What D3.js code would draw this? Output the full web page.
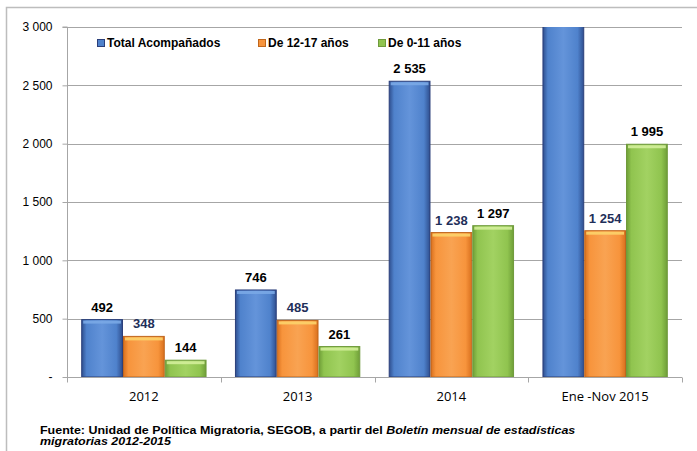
<!DOCTYPE html>
<html><head><meta charset="utf-8">
<script src="https://cdn.jsdelivr.net/npm/d3@7"></script>
<style>body{margin:0;background:#fff}</style>
</head><body>
<script>
const categories = ["2012", "2013", "2014", "Ene -Nov 2015"];
const seriesNames = ["Total Acompañados", "De 12-17 años", "De 0-11 años"];
const total = [492, 746, 2535, 3249];
const de12a17 = [348, 485, 1238, 1254];
const de0a11 = [144, 261, 1297, 1995];
const yTicks = [0, 500, 1000, 1500, 2000, 2500, 3000];

const W = 697, H = 451;
const svg = d3.select("body").append("svg").attr("width", W).attr("height", H);
const defs = svg.append("defs");

const m = {l: 67, r: 682, t: 27, b: 377};
const x0 = d3.scaleBand().domain(categories).range([m.l, m.r]).paddingInner(0).paddingOuter(0);
const x1 = d3.scaleBand().domain(seriesNames).range([0, x0.bandwidth()]).paddingInner(0).paddingOuter(0.34);
const y = d3.scaleLinear().domain([0, 3000]).range([m.b, m.t]);

// outer frame
svg.append("rect").attr("x", 6.5).attr("y", 7.5).attr("width", 700).attr("height", 460)
  .attr("fill", "none").attr("stroke", "#bdbdbd").attr("stroke-width", 1.5);

const styles = [
  {edge: "#2f4f8f", mid: "#4f82cc", light: "#6494da", cap: "#7aa8e6", stroke: "#2b3f7a", lab: "#000"},
  {edge: "#d9701e", mid: "#f7943c", light: "#f9a352", cap: "#fcd36a", stroke: "#c0661c", lab: "#1f2f5a"},
  {edge: "#6f9e38", mid: "#90c44f", light: "#a2d262", cap: "#d3ee9a", stroke: "#6f9a3c", lab: "#000"}
];
styles.forEach((s, i) => {
  const g = defs.append("linearGradient").attr("id", "g" + i).attr("x1", 0).attr("x2", 1).attr("y1", 0).attr("y2", 0);
  g.append("stop").attr("offset", "0%").attr("stop-color", s.edge);
  g.append("stop").attr("offset", "12%").attr("stop-color", s.mid);
  g.append("stop").attr("offset", "50%").attr("stop-color", s.light);
  g.append("stop").attr("offset", "85%").attr("stop-color", s.mid);
  g.append("stop").attr("offset", "100%").attr("stop-color", s.edge);
});
defs.append("clipPath").attr("id", "plotclip").append("rect")
  .attr("x", m.l).attr("y", m.t).attr("width", m.r - m.l).attr("height", m.b - m.t);

// gridlines
svg.append("g").selectAll("line").data(yTicks.filter(d => d > 0)).join("line")
  .attr("x1", m.l).attr("x2", m.r).attr("y1", d => Math.round(y(d)) + 0.5).attr("y2", d => Math.round(y(d)) + 0.5)
  .attr("stroke", "#a6a6a6").attr("stroke-width", 1);

// y axis
const yAxis = d3.axisLeft(y).tickValues(yTicks).tickSize(5)
  .tickFormat(d => d === 0 ? "-" : d3.format(",")(d).replace(/,/g, " "));
const ya = svg.append("g").attr("transform", `translate(${m.l + 0.5},0)`).call(yAxis);
ya.select(".domain").attr("stroke", "#a6a6a6").attr("d", `M-5,${m.t}H0V${m.b}`);
ya.selectAll(".tick line").attr("stroke", "#a6a6a6");
ya.selectAll(".tick text").attr("font-family", "Liberation Sans, Arial").attr("font-size", 12).attr("fill", "#000").attr("x", -15);

// x axis
const xa = svg.append("g").attr("transform", `translate(0,${m.b + 0.5})`);
xa.append("line").attr("x1", m.l).attr("x2", m.r).attr("stroke", "#a6a6a6");
const bounds = categories.map(c => x0(c)).concat([m.r]);
xa.selectAll("line.tk").data(bounds).join("line").attr("class", "tk")
  .attr("x1", d => Math.round(d) + 0.5).attr("x2", d => Math.round(d) + 0.5).attr("y1", 0).attr("y2", 5).attr("stroke", "#a6a6a6");
xa.selectAll("text").data(categories).join("text")
  .attr("x", d => x0(d) + x0.bandwidth() / 2).attr("y", 23.5).attr("text-anchor", "middle")
  .attr("font-family", "Open Sans, Liberation Sans, Arial").attr("font-size", 13).attr("fill", "#000").text(d => d);

// bars
const data = categories.map((c, i) => ({c, vals: [total[i], de12a17[i], de0a11[i]]}));
const groups = svg.append("g").attr("clip-path", "url(#plotclip)").selectAll("g").data(data).join("g")
  .attr("transform", d => `translate(${x0(d.c)},0)`);
groups.each(function(d) {
  const g = d3.select(this);
  d.vals.forEach((v, i) => {
    const s = styles[i];
    const bx = x1(seriesNames[i]), bw = x1.bandwidth();
    const top = Math.max(y(v), m.t - 5);
    g.append("rect").attr("x", bx + 0.5).attr("y", top).attr("width", bw - 1).attr("height", m.b - top)
      .attr("fill", `url(#g${i})`).attr("stroke", s.stroke).attr("stroke-width", 1);
    if (y(v) > m.t) {
      g.append("rect").attr("x", bx + 2).attr("y", top + 1).attr("width", bw - 4).attr("height", 3)
        .attr("fill", s.cap).attr("opacity", 0.9);
    }
  });
});

// value labels
const fmt = v => d3.format(",")(v).replace(/,/g, " ");
data.forEach(d => {
  d.vals.forEach((v, i) => {
    if (v > 3000) return;
    svg.append("text").attr("x", x0(d.c) + x1(seriesNames[i]) + x1.bandwidth() / 2).attr("y", y(v) - 8)
      .attr("text-anchor", "middle").attr("font-family", "Liberation Sans, Arial").attr("font-weight", "bold")
      .attr("font-size", 13).attr("fill", styles[i].lab).text(fmt(v));
  });
});

// legend
const legX = [97, 258, 378];
seriesNames.forEach((n, i) => {
  const lg = svg.append("g").attr("transform", `translate(${legX[i]},43)`);
  lg.append("rect").attr("x", 0.5).attr("y", -3.5).attr("width", 7).attr("height", 7)
    .attr("fill", styles[i].mid).attr("stroke", styles[i].stroke);
  lg.append("text").attr("x", 10).attr("y", 4).attr("font-family", "Liberation Sans, Arial").attr("font-weight", "bold")
    .attr("font-size", 12).attr("fill", "#000").text(n);
});

// footer (horizontally stretched like the reference)
const fg = svg.append("g");
const f1 = fg.append("text").attr("x", 0).attr("y", 0).attr("font-family", "Liberation Sans, Arial")
  .attr("font-weight", "bold").attr("font-size", 10.5).attr("fill", "#000");
f1.append("tspan").text("Fuente: Unidad de Política Migratoria, SEGOB, a partir del ");
f1.append("tspan").attr("font-style", "italic").text("Boletín mensual de estadísticas");
const f2 = fg.append("text").attr("x", 0).attr("y", 11.5).attr("font-family", "Liberation Sans, Arial")
  .attr("font-weight", "bold").attr("font-style", "italic").attr("font-size", 10.5).attr("fill", "#000")
  .text("migratorias 2012-2015");
const sx = 536 / f1.node().getComputedTextLength();
fg.attr("transform", `translate(40,433.5) scale(${sx},1)`);
</script>
</body></html>
